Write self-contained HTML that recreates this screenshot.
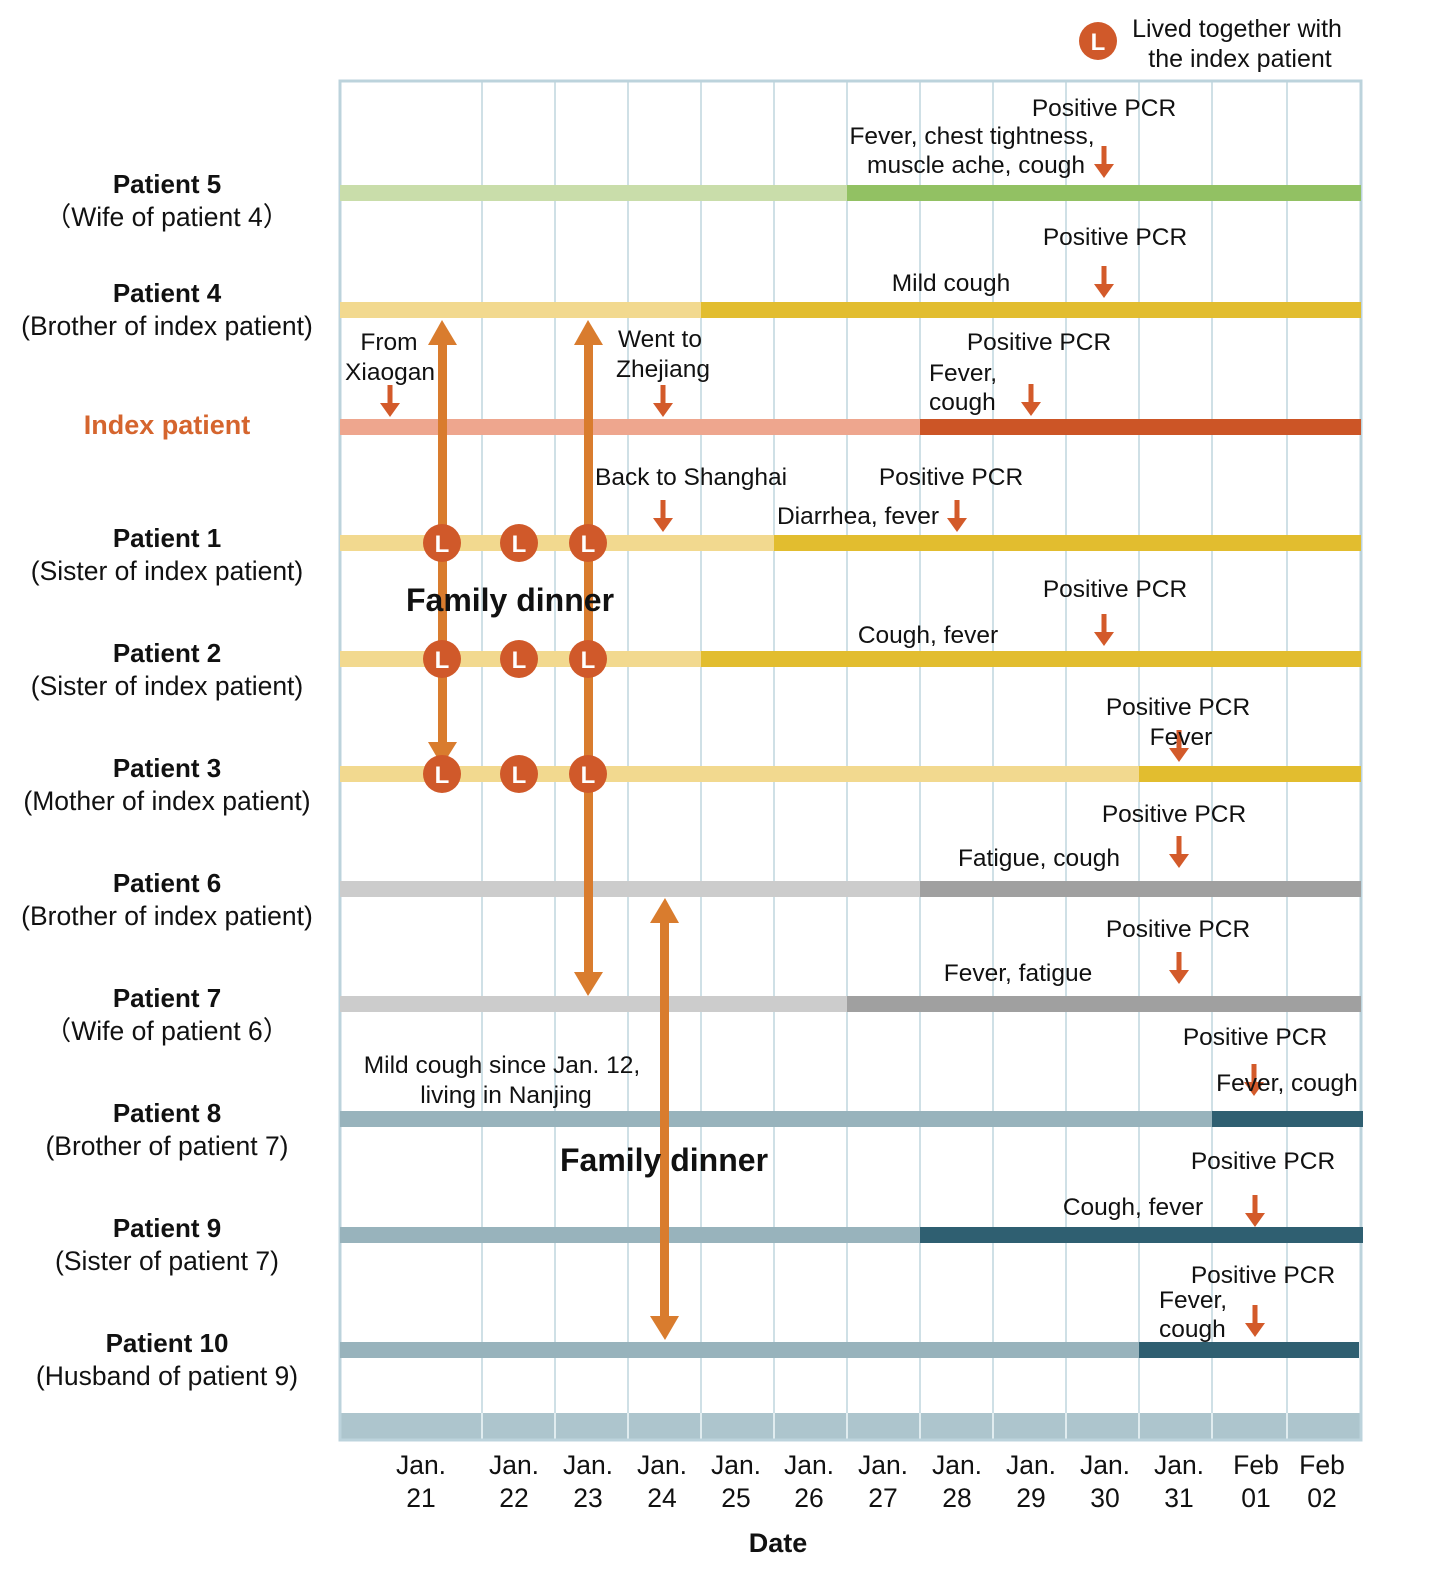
<!DOCTYPE html>
<html><head><meta charset="utf-8"><style>body{margin:0;background:#fff}svg{display:block}text{font-family:"Liberation Sans",sans-serif;font-size:24.5px;fill:#111}</style></head><body>
<svg width="1431" height="1583" viewBox="0 0 1431 1583" xmlns="http://www.w3.org/2000/svg">
<defs>
<g id="da"><rect x="-2.5" y="0" width="5" height="20" fill="#d35a2a"/><polygon points="-10,18 10,18 0,32" fill="#d35a2a"/></g>
<g id="L"><circle r="19" fill="#d0592a"/><text x="0" y="9" text-anchor="middle" style="font-size:24px;font-weight:bold;fill:#fff">L</text></g>
</defs>
<g stroke="#cfe0e6" stroke-width="2">
<line x1="482" y1="80" x2="482" y2="1440"/><line x1="555" y1="80" x2="555" y2="1440"/><line x1="628" y1="80" x2="628" y2="1440"/><line x1="701" y1="80" x2="701" y2="1440"/><line x1="774" y1="80" x2="774" y2="1440"/><line x1="847" y1="80" x2="847" y2="1440"/><line x1="920" y1="80" x2="920" y2="1440"/><line x1="993" y1="80" x2="993" y2="1440"/><line x1="1066" y1="80" x2="1066" y2="1440"/><line x1="1139" y1="80" x2="1139" y2="1440"/><line x1="1212" y1="80" x2="1212" y2="1440"/><line x1="1287" y1="80" x2="1287" y2="1440"/>
</g>
<rect x="340" y="1413" width="1021" height="27" fill="#adc5cd"/>
<g stroke="#e0ecef" stroke-width="2"><line x1="482" y1="1413" x2="482" y2="1440"/><line x1="555" y1="1413" x2="555" y2="1440"/><line x1="628" y1="1413" x2="628" y2="1440"/><line x1="701" y1="1413" x2="701" y2="1440"/><line x1="774" y1="1413" x2="774" y2="1440"/><line x1="847" y1="1413" x2="847" y2="1440"/><line x1="920" y1="1413" x2="920" y2="1440"/><line x1="993" y1="1413" x2="993" y2="1440"/><line x1="1066" y1="1413" x2="1066" y2="1440"/><line x1="1139" y1="1413" x2="1139" y2="1440"/><line x1="1212" y1="1413" x2="1212" y2="1440"/><line x1="1287" y1="1413" x2="1287" y2="1440"/></g>
<rect x="340" y="81" width="1021" height="1359" fill="none" stroke="#bcd3dc" stroke-width="3"/>
<rect x="340" y="185" width="507" height="16" fill="#c9ddaa"/><rect x="847" y="185" width="514" height="16" fill="#92c163"/>
<rect x="340" y="302" width="361" height="16" fill="#f2d98f"/><rect x="701" y="302" width="660" height="16" fill="#e2bd2f"/>
<rect x="340" y="419" width="580" height="16" fill="#eea68e"/><rect x="920" y="419" width="441" height="16" fill="#cc5526"/>
<rect x="340" y="535" width="434" height="16" fill="#f2d98f"/><rect x="774" y="535" width="587" height="16" fill="#e2bd2f"/>
<rect x="340" y="651" width="361" height="16" fill="#f2d98f"/><rect x="701" y="651" width="660" height="16" fill="#e2bd2f"/>
<rect x="340" y="766" width="799" height="16" fill="#f2d98f"/><rect x="1139" y="766" width="222" height="16" fill="#e2bd2f"/>
<rect x="340" y="881" width="580" height="16" fill="#cccccc"/><rect x="920" y="881" width="441" height="16" fill="#a0a0a0"/>
<rect x="340" y="996" width="507" height="16" fill="#cccccc"/><rect x="847" y="996" width="514" height="16" fill="#a0a0a0"/>
<rect x="340" y="1111" width="872" height="16" fill="#98b3bc"/><rect x="1212" y="1111" width="151" height="16" fill="#2f5f71"/>
<rect x="340" y="1227" width="580" height="16" fill="#98b3bc"/><rect x="920" y="1227" width="443" height="16" fill="#2f5f71"/>
<rect x="340" y="1342" width="799" height="16" fill="#98b3bc"/><rect x="1139" y="1342" width="220" height="16" fill="#2f5f71"/>
<g fill="#d97c2e">
<rect x="438" y="340" width="9" height="410"/><polygon points="428,345 457,345 442,320"/><polygon points="428,742 457,742 442,766"/>
<rect x="584" y="340" width="9" height="645"/><polygon points="574,345 603,345 588,320"/><polygon points="574,972 603,972 588,996"/>
<rect x="660" y="918" width="9" height="405"/><polygon points="650,923 679,923 665,898"/><polygon points="650,1316 679,1316 665,1340"/>
</g>
<use href="#L" x="442" y="543"/><use href="#L" x="519" y="543"/><use href="#L" x="588" y="543"/>
<use href="#L" x="442" y="659"/><use href="#L" x="519" y="659"/><use href="#L" x="588" y="659"/>
<use href="#L" x="442" y="774"/><use href="#L" x="519" y="774"/><use href="#L" x="588" y="774"/>
<use href="#L" x="1098" y="41"/>
<text x="1237" y="37" text-anchor="middle" style="font-size:25px">Lived together with</text><text x="1240" y="67" text-anchor="middle" style="font-size:25px">the index patient</text>
<use href="#da" x="1104" y="146"/><use href="#da" x="1104" y="266"/><use href="#da" x="390" y="385"/><use href="#da" x="663" y="385"/><use href="#da" x="1031" y="384"/>
<use href="#da" x="663" y="500"/><use href="#da" x="957" y="500"/><use href="#da" x="1104" y="614"/><use href="#da" x="1179" y="730"/><use href="#da" x="1179" y="836"/><use href="#da" x="1179" y="952"/><use href="#da" x="1254" y="1064"/><use href="#da" x="1255" y="1195"/><use href="#da" x="1255" y="1305"/>
<text x="1104" y="116" text-anchor="middle">Positive PCR</text>
<text x="972" y="144" text-anchor="middle">Fever, chest tightness,</text><text x="976" y="173" text-anchor="middle">muscle ache, cough</text>
<text x="1115" y="245" text-anchor="middle">Positive PCR</text><text x="951" y="291" text-anchor="middle">Mild cough</text>
<text x="389" y="350" text-anchor="middle">From</text><text x="390" y="380" text-anchor="middle">Xiaogan</text>
<text x="660" y="347" text-anchor="middle">Went to</text><text x="663" y="377" text-anchor="middle">Zhejiang</text>
<text x="1039" y="350" text-anchor="middle">Positive PCR</text><text x="929" y="381">Fever,</text><text x="929" y="410">cough</text>
<text x="595" y="485">Back to Shanghai</text><text x="951" y="485" text-anchor="middle">Positive PCR</text><text x="858" y="524" text-anchor="middle">Diarrhea, fever</text>
<text x="510" y="611" text-anchor="middle" style="font-size:32px;font-weight:bold">Family dinner</text>
<text x="1115" y="597" text-anchor="middle">Positive PCR</text><text x="928" y="643" text-anchor="middle">Cough, fever</text>
<text x="1178" y="715" text-anchor="middle">Positive PCR</text><text x="1181" y="745" text-anchor="middle">Fever</text>
<text x="1174" y="822" text-anchor="middle">Positive PCR</text><text x="1039" y="866" text-anchor="middle">Fatigue, cough</text>
<text x="1178" y="937" text-anchor="middle">Positive PCR</text><text x="1018" y="981" text-anchor="middle">Fever, fatigue</text>
<text x="1255" y="1045" text-anchor="middle">Positive PCR</text><text x="1287" y="1091" text-anchor="middle">Fever, cough</text>
<text x="502" y="1073" text-anchor="middle">Mild cough since Jan. 12,</text><text x="506" y="1103" text-anchor="middle">living in Nanjing</text>
<text x="664" y="1171" text-anchor="middle" style="font-size:32px;font-weight:bold">Family dinner</text>
<text x="1263" y="1169" text-anchor="middle">Positive PCR</text><text x="1133" y="1215" text-anchor="middle">Cough, fever</text>
<text x="1263" y="1283" text-anchor="middle">Positive PCR</text><text x="1159" y="1308">Fever,</text><text x="1159" y="1337">cough</text>
<g text-anchor="middle">
<text x="167" y="193" style="font-weight:bold;font-size:26px">Patient 5</text><text x="167" y="226" style="font-size:26.5px">（Wife of patient 4）</text>
<text x="167" y="302" style="font-weight:bold;font-size:26px">Patient 4</text><text x="167" y="335" style="font-size:26.5px">(Brother of index patient)</text>
<text x="167" y="434" style="font-weight:bold;font-size:27px;fill:#d5652e">Index patient</text>
<text x="167" y="547" style="font-weight:bold;font-size:26px">Patient 1</text><text x="167" y="580" style="font-size:26.5px">(Sister of index patient)</text>
<text x="167" y="662" style="font-weight:bold;font-size:26px">Patient 2</text><text x="167" y="695" style="font-size:26.5px">(Sister of index patient)</text>
<text x="167" y="777" style="font-weight:bold;font-size:26px">Patient 3</text><text x="167" y="810" style="font-size:26.5px">(Mother of index patient)</text>
<text x="167" y="892" style="font-weight:bold;font-size:26px">Patient 6</text><text x="167" y="925" style="font-size:26.5px">(Brother of index patient)</text>
<text x="167" y="1007" style="font-weight:bold;font-size:26px">Patient 7</text><text x="167" y="1040" style="font-size:26.5px">（Wife of patient 6）</text>
<text x="167" y="1122" style="font-weight:bold;font-size:26px">Patient 8</text><text x="167" y="1155" style="font-size:26.5px">(Brother of patient 7)</text>
<text x="167" y="1237" style="font-weight:bold;font-size:26px">Patient 9</text><text x="167" y="1270" style="font-size:26.5px">(Sister of patient 7)</text>
<text x="167" y="1352" style="font-weight:bold;font-size:26px">Patient 10</text><text x="167" y="1385" style="font-size:26.5px">(Husband of patient 9)</text>
</g>
<g text-anchor="middle">
<text x="421" y="1474" style="font-size:26.5px">Jan.</text><text x="421" y="1507" style="font-size:26.5px">21</text>
<text x="514" y="1474" style="font-size:26.5px">Jan.</text><text x="514" y="1507" style="font-size:26.5px">22</text>
<text x="588" y="1474" style="font-size:26.5px">Jan.</text><text x="588" y="1507" style="font-size:26.5px">23</text>
<text x="662" y="1474" style="font-size:26.5px">Jan.</text><text x="662" y="1507" style="font-size:26.5px">24</text>
<text x="736" y="1474" style="font-size:26.5px">Jan.</text><text x="736" y="1507" style="font-size:26.5px">25</text>
<text x="809" y="1474" style="font-size:26.5px">Jan.</text><text x="809" y="1507" style="font-size:26.5px">26</text>
<text x="883" y="1474" style="font-size:26.5px">Jan.</text><text x="883" y="1507" style="font-size:26.5px">27</text>
<text x="957" y="1474" style="font-size:26.5px">Jan.</text><text x="957" y="1507" style="font-size:26.5px">28</text>
<text x="1031" y="1474" style="font-size:26.5px">Jan.</text><text x="1031" y="1507" style="font-size:26.5px">29</text>
<text x="1105" y="1474" style="font-size:26.5px">Jan.</text><text x="1105" y="1507" style="font-size:26.5px">30</text>
<text x="1179" y="1474" style="font-size:26.5px">Jan.</text><text x="1179" y="1507" style="font-size:26.5px">31</text>
<text x="1256" y="1474" style="font-size:26.5px">Feb</text><text x="1256" y="1507" style="font-size:26.5px">01</text>
<text x="1322" y="1474" style="font-size:26.5px">Feb</text><text x="1322" y="1507" style="font-size:26.5px">02</text>
<text x="778" y="1552" style="font-size:27px;font-weight:bold">Date</text>
</g>
</svg>
</body></html>
